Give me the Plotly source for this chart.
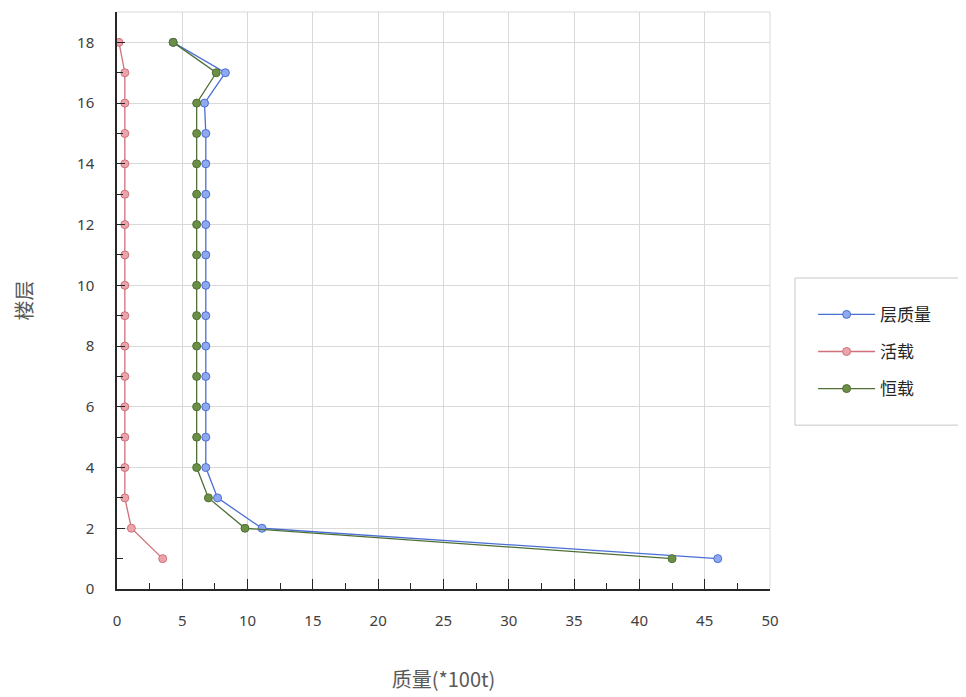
import plotly.graph_objects as go

floors = list(range(1, 19))
floor_mass = [46.0, 11.1, 7.7, 6.8, 6.8, 6.8, 6.8, 6.8, 6.8, 6.8, 6.8, 6.8, 6.8, 6.8, 6.8, 6.7, 8.3, 4.3]
live_load = [3.5, 1.1, 0.6, 0.6, 0.6, 0.6, 0.6, 0.6, 0.6, 0.6, 0.6, 0.6, 0.6, 0.6, 0.6, 0.6, 0.6, 0.15]
dead_load = [42.5, 9.8, 7.0, 6.1, 6.1, 6.1, 6.1, 6.1, 6.1, 6.1, 6.1, 6.1, 6.1, 6.1, 6.1, 6.1, 7.6, 4.3]

names = ["层质量", "活载", "恒载"]
line_colors = ["#4a6fd4", "#d0707a", "#4f6f35"]
marker_fill = ["#8fa8ef", "#eca4ab", "#6a8f45"]

fig = go.Figure()
for name, vals, lc, mf in zip(names, [floor_mass, live_load, dead_load], line_colors, marker_fill):
    fig.add_trace(go.Scatter(
        x=vals, y=floors, name=name, mode="lines+markers", legendgroup=name,
        line=dict(color=lc, width=1.3),
        marker=dict(size=8, color=mf, line=dict(color=lc, width=1)),
    ))

tickfont = dict(family="Noto Sans, sans-serif", size=15, color="#404040")
titlefont = dict(family="Noto Sans CJK SC, sans-serif", size=20, color="#595959")

fig.update_layout(
    width=966, height=697,
    margin=dict(l=109, r=204, t=4, b=116, autoexpand=False),
    plot_bgcolor="white", paper_bgcolor="white",
    font=dict(family="Noto Sans CJK SC, Noto Sans, sans-serif", color="#404040", size=14),
    legend=dict(x=1.066, y=0.411, xanchor="left", yanchor="middle",
                borderwidth=0, bgcolor="rgba(0,0,0,0)", itemwidth=57,
                font=dict(size=17, color="#262626", family="Noto Sans CJK SC, sans-serif"),
                tracegroupgap=12, traceorder="grouped"),
    xaxis=dict(
        range=[0, 50], dtick=5, tick0=0, automargin=False,
        showgrid=True, gridcolor="#d9d9d9", gridwidth=1,
        showline=True, linecolor="#262626", linewidth=1.5, mirror=False,
        ticks="inside", ticklen=10, tickcolor="#262626", tickfont=tickfont,
        ticklabelstandoff=17,
        minor=dict(dtick=2.5, ticks="inside", ticklen=6, tickcolor="#262626", showgrid=False),
        zeroline=False,
        title=dict(text="质量(*100t)", font=titlefont, standoff=44),
    ),
    yaxis=dict(
        range=[0, 19], dtick=2, tick0=0, automargin=False,
        showgrid=True, gridcolor="#d9d9d9", gridwidth=1,
        showline=True, linecolor="#262626", linewidth=1.5,
        ticks="inside", ticklen=8, tickcolor="#262626", tickfont=tickfont,
        ticklabelstandoff=18,
        minor=dict(dtick=1, ticks="inside", ticklen=6, tickcolor="#262626", showgrid=False),
        zeroline=False,
        title=dict(text="楼层", font=titlefont, standoff=39),
    ),
)
# top and right grid border lines
fig.add_shape(type="line", xref="paper", yref="paper", x0=0, x1=1, y0=1, y1=1,
              line=dict(color="#d9d9d9", width=1))
fig.add_shape(type="line", xref="paper", yref="paper", x0=1, x1=1, y0=0, y1=1,
              line=dict(color="#d9d9d9", width=1))
# legend frame
fig.add_shape(type="rect", xref="paper", yref="paper", x0=1.0383, x1=1.6, y0=0.284, y1=0.539,
              line=dict(color="#c8c8c8", width=1), fillcolor="rgba(0,0,0,0)")

fig.write_html("out.html")
